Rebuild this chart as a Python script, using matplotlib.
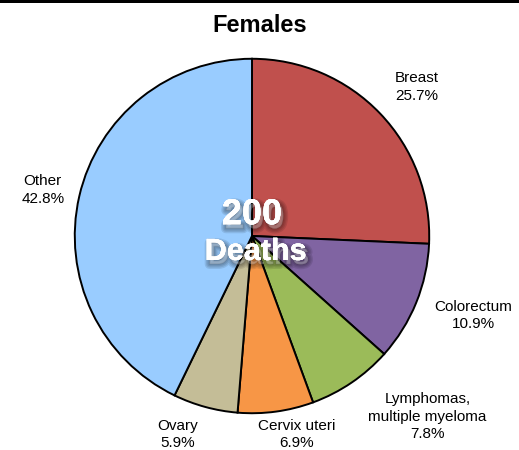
import matplotlib
matplotlib.use("Agg")
import matplotlib.pyplot as plt
import matplotlib.patheffects as pe
from matplotlib.patches import Rectangle

plt.rcParams['font.family'] = ['Liberation Sans', 'DejaVu Sans']

# data
sites = ["Breast", "Colorectum", "Lymphomas,\nmultiple myeloma", "Cervix uteri", "Ovary", "Other"]
shares = [25.7, 10.9, 7.8, 6.9, 5.9, 42.8]
colors = ["#C0504D", "#8064A2", "#9BBB59", "#F79646", "#C4BD97", "#99CCFF"]
total_deaths = 200

# label positions (in pie radius units)
label_xy = [(0.93, 0.84), (1.25, -0.45), (0.99, -1.02), (0.25, -1.12), (-0.42, -1.12), (-1.18, 0.26)]

fig = plt.figure(figsize=(5.19, 4.5), dpi=100)
ax = fig.add_axes([73 / 519, 35 / 450, 358 / 519, 358 / 450])

wedges, _ = ax.pie(shares, colors=colors, startangle=90, counterclock=False,
                   wedgeprops=dict(edgecolor="black", linewidth=1.4))
ax.set_xlim(-1.01, 1.01)
ax.set_ylim(-1.01, 1.01)
ax.set_aspect("equal")
ax.axis("off")

for name, val, (x, y) in zip(sites, shares, label_xy):
    ax.text(x, y, "{}\n{:.1f}%".format(name, val), ha="center", va="center",
            fontsize=11, linespacing=1.3, clip_on=False)

# soft drop shadow built from a few translucent strokes
shadow = [pe.withStroke(offset=(2, -3), linewidth=w, foreground="black", alpha=0.1)
          for w in (7, 5, 3, 1)]
shadow.append(pe.Normal())
ax.text(0.0, 0.12, str(total_deaths), ha="center", va="center", fontsize=26,
        fontweight="bold", color="white", path_effects=shadow)
ax.text(0.02, -0.09, "Deaths", ha="center", va="center", fontsize=22,
        fontweight="bold", color="white", path_effects=shadow)

fig.text(0.5, 1 - 26 / 450, "Females", ha="center", va="center", fontsize=17, fontweight="bold")
fig.add_artist(Rectangle((0, 1 - 3 / 450), 1, 3 / 450, transform=fig.transFigure,
                         facecolor="black", edgecolor="none"))

fig.savefig("out.png", dpi=100)
